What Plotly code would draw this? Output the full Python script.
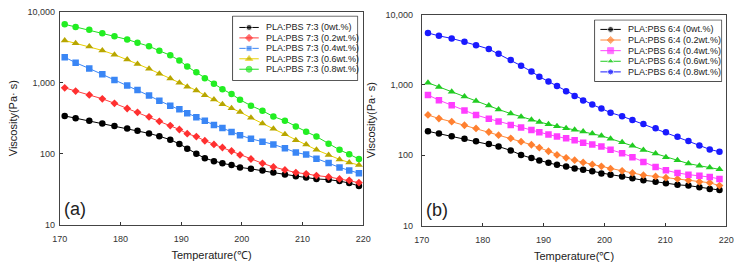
import plotly.graph_objects as go

# ---------------- data ----------------
temp_a = [170.8, 172.6, 174.85, 177.0, 179.0, 181.1, 182.8, 184.7, 186.4, 188.2, 189.7, 191.0, 192.5, 193.9,
          195.4, 196.8, 198.3, 199.7, 201.5, 203.4, 205.2, 207.1, 208.9, 210.6, 212.3, 214.3, 216.1, 217.7, 219.3]
temp_b = [171.0, 172.8, 174.9, 177.0, 178.9, 181.0, 182.6, 184.6, 186.3, 188.0, 189.3, 190.8, 192.2, 193.7,
          195.1, 196.5, 198.0, 199.5, 201.0, 202.9, 204.6, 206.4, 208.4, 210.1, 212.0, 213.8, 215.6, 217.3, 218.9]

a_0wt = [340, 316, 291, 265, 246, 226, 210, 193, 176, 157, 137, 117, 100, 86, 78, 73, 69, 64, 61, 58, 54, 51, 48, 46, 44, 43, 41, 38.5, 35]
a_02wt = [846, 762, 672, 593, 512, 433, 382, 330, 285, 249, 219, 191, 174, 152, 135, 122, 109, 96, 84, 73, 65, 59, 54, 52, 49, 47, 44, 42, 39]
a_04wt = [2286, 1914, 1585, 1313, 1087, 910, 786, 658, 556, 475, 424, 370, 326, 291, 254, 229, 202, 182, 162, 147, 135, 119, 104, 97, 85, 74, 64, 58, 53]
a_06wt = [3940, 3589, 3228, 2849, 2485, 2125, 1835, 1568, 1340, 1145, 1000, 873, 778, 665, 580, 496, 437, 386, 320, 267, 224, 187, 155, 134, 113, 96, 83, 75, 69]
a_08wt = [6650, 6110, 5560, 4960, 4515, 4065, 3660, 3262, 2818, 2434, 2059, 1687, 1398, 1158, 969, 811, 693, 574, 475, 402, 333, 291, 241, 204, 174, 138, 113, 98, 84]

b_0wt = [219, 203, 187, 172, 158, 145, 133, 117, 101, 91, 84, 78, 73, 69, 65, 62, 59, 55, 53, 50, 47, 44, 42, 40, 38, 37, 35, 33, 32]
b_02wt = [374, 333, 300, 267, 241, 214, 193, 174, 156, 141, 128, 114, 101, 92, 85, 79, 74, 69.5, 64.5, 60, 56, 52, 50, 48, 46, 44, 42, 40.6, 37]
b_04wt = [719, 608, 514, 434, 374, 330, 303, 270, 248, 228, 212, 197, 185, 174, 163, 151, 142, 133, 120, 107, 94, 80, 68, 61, 56, 53, 51, 49, 46]
b_06wt = [1074, 935, 800, 682, 589, 508, 448, 391, 352, 320, 297, 276, 259, 243, 231, 217, 203, 189, 172, 153, 136, 119, 106, 94, 85, 76, 71, 67, 63]
b_08wt = [5488, 4989, 4589, 4130, 3681, 3243, 2769, 2266, 1875, 1552, 1310, 1119, 966, 816, 697, 601, 525, 462, 403, 359, 316, 279, 243, 212, 183, 160, 138, 121, 112]

names_a = ["PLA:PBS 7:3 (0wt.%)", "PLA:PBS 7:3 (0.2wt.%)", "PLA:PBS 7:3 (0.4wt.%)",
           "PLA:PBS 7:3 (0.6wt.%)", "PLA:PBS 7:3 (0.8wt.%)"]
names_b = ["PLA:PBS 6:4 (0wt.%)", "PLA:PBS 6:4 (0.2wt.%)", "PLA:PBS 6:4 (0.4wt.%)",
           "PLA:PBS 6:4 (0.6wt.%)", "PLA:PBS 6:4 (0.8wt.%)"]

x_ticks = [170, 180, 190, 200, 210, 220]
y_tickvals = [10, 100, 1000, 10000]
y_ticktext = ["10", "100", "1,000", "10,000"]

# ---------------- styles ----------------
style_a = [
    dict(line="#000000", marker="#000000", symbol="circle", size=6.5),
    dict(line="#ff4040", marker="#ff3030", symbol="diamond", size=6),
    dict(line="#3a86f5", marker="#3a86f5", symbol="square", size=6.5),
    dict(line="#e8d000", marker="#b8a600", symbol="triangle-up", size=7),
    dict(line="#22dd22", marker="#22ee22", symbol="circle", size=6.5),
]
style_b = [
    dict(line="#000000", marker="#000000", symbol="circle", size=6.5),
    dict(line="#ff8a3a", marker="#ff8030", symbol="diamond", size=6),
    dict(line="#ff44ff", marker="#ff3cff", symbol="square", size=6.5),
    dict(line="#22cc22", marker="#22cc22", symbol="triangle-up", size=7),
    dict(line="#1a1aff", marker="#1a1aff", symbol="circle", size=6.5),
]

W, H = 742, 271
FONT = "Liberation Sans, Arial, sans-serif"
axfont = dict(family=FONT, size=9, color="#333333")
titlefont = dict(family=FONT, size=11, color="#222222")
legfont = dict(family=FONT, size=9, color="#222222")

# legend boxes in pixel units: left, top, width, height, first row, row step, sample start/end, text x
leg_a = dict(left=229, top=11, w=129, h=68, row0=12, step=11, s0=7, s1=27, tx=32, ax="x3", ay="y3")
leg_b = dict(left=599, top=15, w=131, h=65, row0=10, step=11.2, s0=6, s1=27, tx=32, ax="x4", ay="y4")

fig = go.Figure()
for ys, nm, st in zip([a_0wt, a_02wt, a_04wt, a_06wt, a_08wt], names_a, style_a):
    fig.add_trace(go.Scatter(x=temp_a, y=ys, name=nm, mode="lines+markers", showlegend=False,
                             line=dict(color=st["line"], width=1),
                             marker=dict(color=st["marker"], symbol=st["symbol"], size=st["size"]),
                             xaxis="x", yaxis="y"))
for ys, nm, st in zip([b_0wt, b_02wt, b_04wt, b_06wt, b_08wt], names_b, style_b):
    fig.add_trace(go.Scatter(x=temp_b, y=ys, name=nm, mode="lines+markers", showlegend=False,
                             line=dict(color=st["line"], width=1),
                             marker=dict(color=st["marker"], symbol=st["symbol"], size=st["size"]),
                             xaxis="x2", yaxis="y2"))

annotations = []


def build_legend(leg, names, styles):
    xa, ya = leg["ax"], leg["ay"]
    w, h = leg["w"], leg["h"]
    # box
    fig.add_trace(go.Scatter(x=[0, w, w, 0, 0], y=[0, 0, h, h, 0], mode="lines", fill="toself",
                             fillcolor="white", line=dict(color="#444444", width=1),
                             hoverinfo="skip", showlegend=False, xaxis=xa, yaxis=ya))
    for i, (nm, st) in enumerate(zip(names, styles)):
        yy = leg["row0"] + leg["step"] * i
        xm = (leg["s0"] + leg["s1"]) / 2
        fig.add_trace(go.Scatter(x=[leg["s0"], xm, leg["s1"]], y=[yy, yy, yy], mode="lines+markers",
                                 line=dict(color=st["line"], width=1),
                                 marker=dict(color=st["marker"], symbol=st["symbol"],
                                             size=[0, st["size"] - 0.5, 0]),
                                 hoverinfo="skip", showlegend=False, xaxis=xa, yaxis=ya))
        annotations.append(dict(text=nm, x=leg["tx"], y=yy, xref=xa, yref=ya, xanchor="left",
                                yanchor="middle", showarrow=False, font=legfont))


build_legend(leg_a, names_a, style_a)
build_legend(leg_b, names_b, style_b)


def xax(domain, anchor, lstand):
    return dict(domain=domain, anchor=anchor, range=[170, 220], tickvals=x_ticks,
                ticks="inside", ticklen=3, tickcolor="#333", showline=True, linecolor="#444",
                linewidth=1, mirror=True, showgrid=False, zeroline=False, tickfont=axfont,
                ticklabelstandoff=lstand,
                title=dict(text="Temperature(℃)", font=titlefont, standoff=7))


def yax(domain, anchor, lstand):
    return dict(domain=domain, anchor=anchor, type="log", range=[1, 4], tickvals=y_tickvals,
                ticktext=y_ticktext, ticks="inside", ticklen=3, tickcolor="#333", showline=True,
                linecolor="#444", linewidth=1, mirror=True, showgrid=False, zeroline=False,
                tickfont=axfont, ticklabelstandoff=lstand,
                title=dict(text="Viscosity(Pa· s)", font=titlefont, standoff=7))


def auxax(leg, horizontal):
    if horizontal:
        return dict(domain=[leg["left"] / W, (leg["left"] + leg["w"]) / W], range=[-0.5, leg["w"] + 0.5],
                    visible=False, fixedrange=True, anchor=leg["ay"])
    return dict(domain=[(H - leg["top"] - leg["h"]) / H, (H - leg["top"]) / H],
                range=[leg["h"] + 0.5, -0.5], visible=False, fixedrange=True, anchor=leg["ax"])


annotations += [
    dict(text="(a)", x=170.4, y=1.22, xref="x", yref="y", xanchor="left", yanchor="middle",
         showarrow=False, font=dict(family=FONT, size=18, color="#222")),
    dict(text="(b)", x=170.4, y=1.22, xref="x2", yref="y2", xanchor="left", yanchor="middle",
         showarrow=False, font=dict(family=FONT, size=18, color="#222")),
]

fig.update_layout(
    width=W, height=H, margin=dict(l=0, r=0, t=0, b=0),
    paper_bgcolor="white", plot_bgcolor="rgba(0,0,0,0)", showlegend=False,
    xaxis=xax([53 / W, 363 / W], "y", 6),
    yaxis=yax([(H - 228) / H, (H - 7) / H], "x", 2),
    xaxis2=xax([423 / W, 734 / W], "y2", 6),
    yaxis2=yax([(H - 229) / H, (H - 10) / H], "x2", 6),
    xaxis3=auxax(leg_a, True), yaxis3=auxax(leg_a, False),
    xaxis4=auxax(leg_b, True), yaxis4=auxax(leg_b, False),
    annotations=annotations,
)

fig.write_html("out.html")
